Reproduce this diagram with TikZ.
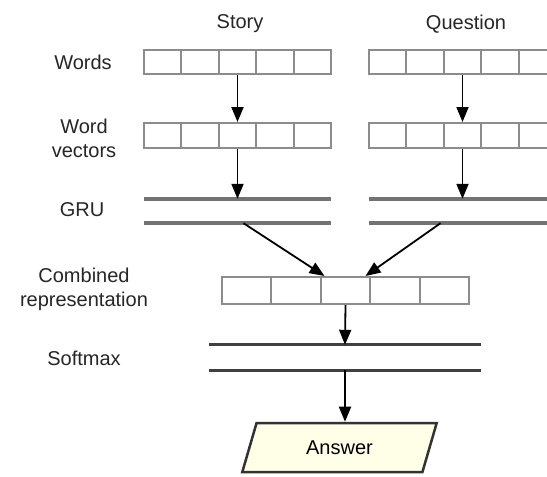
\documentclass[tikz,border=0pt]{standalone}
\usepackage{fontspec}
\setmainfont{Liberation Sans}
\usepackage{tikz}
\usetikzlibrary{arrows.meta, positioning, calc, shapes.geometric}

\begin{document}
\begin{tikzpicture}[x=1pt,y=-1pt,>={Triangle[length=15pt,width=12pt]},
        font=\fontsize{20}{24}\selectfont,
        caption/.style={text=black!85,align=center},
        vecrow/.style={draw=black!45,line width=2pt,fill=white,minimum width=187pt,minimum height=24pt,inner sep=0pt},
        layer/.style={minimum height=24pt,minimum width=187pt,inner sep=0pt},
        gruline/.style={draw=black!55,line width=3.5pt},
        softline/.style={draw=black!75,line width=3pt},
        flow/.style={->,line width=1.8pt,draw=black},
        answer/.style={trapezium,trapezium left angle=73,trapezium right angle=107,trapezium stretches=true,
          draw=black!80,line width=2.5pt,fill=yellow!10,minimum width=195pt,minimum height=49pt}]

    \fill[white] (0,0) rectangle (547,477);
    \useasboundingbox (0,0) rectangle (547,477);
    \clip (0,0) rectangle (547,477);

    % column heads and row captions
    \node[caption] (hstory) at (240,24) {Story};
    \node[caption] (hquest) at (466,24) {Question};
    \node[caption] (lwords) at (83,62)  {Words};
    \node[caption] (lvecs)  at (84,138) {Word\\vectors};
    \node[caption] (lgru)   at (82,210) {GRU};
    \node[caption] (lcomb)  at (84,289) {Combined\\representation};
    \node[caption] (lsoft)  at (84,358) {Softmax};

    % layers
    \node[vecrow] (sw)   at (237.5,62)  {};
    \node[vecrow] (qw)   at (462.5,62)  {};
    \node[vecrow, minimum height=25pt] (sv) at (237.5,135.5) {};
    \node[vecrow, minimum height=25pt] (qv) at (462.5,135.5) {};
    \node[layer]  (sgru) at (237.5,211) {};
    \node[layer]  (qgru) at (462.5,211) {};
    \node[vecrow, minimum width=247pt, minimum height=27pt] (comb) at (345.5,290.5) {};
    \node[layer, minimum width=272pt, minimum height=25pt]  (soft) at (345,357.5) {};
    \node[answer] (ans)  at (339.5,447.5) {Answer};

    \foreach \row in {sw,qw,sv,qv,comb}
      \foreach \i in {1,...,4}
        \draw[draw=black!45,line width=2pt] ($(\row.south west)!\i/5!(\row.south east)$) -- ($(\row.north west)!\i/5!(\row.north east)$);

    \foreach \g in {sgru,qgru}
      \draw[gruline] (\g.north west) -- (\g.north east) (\g.south west) -- (\g.south east);
    \draw[softline] (soft.north west) -- (soft.north east) (soft.south west) -- (soft.south east);

    % flow
    \draw[flow] (sw.south) -- (sv.north);
    \draw[flow] (qw.south) -- (qv.north);
    \draw[flow] (sv.south) -- (sgru.north);
    \draw[flow] (qv.south) -- (qgru.north);
    \draw[flow] ($(sgru.south)+(6,0)$) -- ($(comb.north)+(-21,0)$);
    \draw[flow] ($(qgru.south)+(-22,0)$) -- ($(comb.north)+(20,0)$);
    \draw[flow] (comb.south) -- (soft.north);
    \draw[flow] (soft.south) -- (soft.south |- ans.north);
\end{tikzpicture}
\end{document}
